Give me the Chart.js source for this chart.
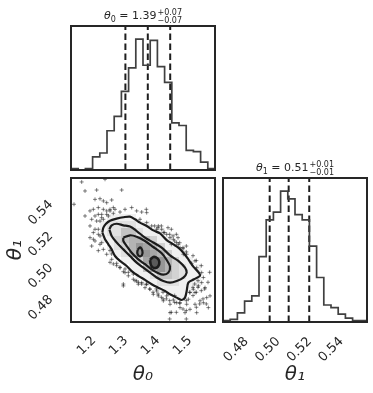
<!DOCTYPE html>
<html><head><meta charset="utf-8">
<script src="https://cdn.jsdelivr.net/npm/chart.js@4.4.1/dist/chart.umd.min.js"></script>
<style>
html,body{margin:0;padding:0;background:#fff;}
#wrap{position:relative;width:373px;height:393px;overflow:hidden;background:#fff;}
canvas{position:absolute;left:0;top:0;}
</style></head><body>
<div id="wrap">
<canvas id="c1" width="373" height="393"></canvas>
<canvas id="c2" width="373" height="393"></canvas>
<canvas id="c3" width="373" height="393"></canvas>
</div>
<script>
// ---- data ----
const axisLabels = ['θ₀', 'θ₁'];
const titleSymbols = ['θ', 'θ'];
const titleIndices = ['0', '1'];
const titleValues = ['1.39', '0.51'];
const titleUpper = ['+0.07', '+0.01'];
const titleLower = ['−0.07', '−0.01'];

const theta0Range = [1.15, 1.60];
const theta1Range = [0.4715, 0.5625];
const theta0Ticks = [1.2, 1.3, 1.4, 1.5];
const theta1Ticks = [0.48, 0.50, 0.52, 0.54];

const theta0BinEdges = [1.15,1.1725,1.195,1.2175,1.24,1.2625,1.285,1.3075,1.33,1.3525,1.375,1.3975,1.42,1.4425,1.465,1.4875,1.51,1.5325,1.555,1.5775,1.60];
const theta1BinEdges = [0.4715,0.47605,0.4806,0.48515,0.4897,0.49425,0.4988,0.50335,0.5079,0.51245,0.517,0.52155,0.5261,0.53065,0.5352,0.53975,0.5443,0.54885,0.5534,0.55795,0.5625];

const theta0Counts = [1,0,1,10,13,30,41,60,78,100,80,99,79,67,36,34,15,14,6,1];
const theta1Counts = [1,2,7,16,20,50,78,84,100,94,82,78,58,34,13,11,6,3,1,1];

const theta0Quantiles = [1.32, 1.39, 1.46];
const theta1Quantiles = [0.501, 0.513, 0.526];

// 2D histogram shading, rows from highest theta1 (top) to lowest, columns theta0 bins
const density2d = [
 [0,0,0,0,0,0,0,0,0,0,0,0,0,0,0,0,0,0,0,0],
 [0,0,0,0,0,0,0,0,0,0,0,0,0,0,0,0,0,0,0,0],
 [0,0,0,0,0,0,0,0,0,0,0,0,0,0,0,0,0,0,0,0],
 [0,0,0,0,0,0,0,0,0,0,0,0,0,0,0,0,0,0,0,0],
 [0,0,0,0,0,0,0,0,0,0,0,0,0,0,0,0,0,0,0,0],
 [0,0,0,0,0,1,1,1,1,0,0,0,0,0,0,0,0,0,0,0],
 [0,0,0,0,1,2,2,2,2,1,1,0,0,0,0,0,0,0,0,0],
 [0,0,0,0,1,2,2,4,4,2,1,1,1,0,0,0,0,0,0,0],
 [0,0,0,0,1,1,3,4,5,5,4,3,1,1,0,0,0,0,0,0],
 [0,0,0,0,0,1,2,3,5,7,6,5,3,1,1,0,0,0,0,0],
 [0,0,0,0,0,0,1,2,5,7,7,6,5,3,1,1,0,0,0,0],
 [0,0,0,0,0,0,0,1,1,3,6,8,7,5,3,1,1,0,0,0],
 [0,0,0,0,0,0,0,0,1,1,4,6,7,5,3,2,1,1,0,0],
 [0,0,0,0,0,0,0,0,0,1,1,2,4,4,3,2,1,1,0,0],
 [0,0,0,0,0,0,0,0,0,0,1,1,2,2,2,1,1,1,0,0],
 [0,0,0,0,0,0,0,0,0,0,0,0,1,1,1,1,1,0,0,0],
 [0,0,0,0,0,0,0,0,0,0,0,0,0,0,1,1,0,0,0,0],
 [0,0,0,0,0,0,0,0,0,0,0,0,0,0,0,0,0,0,0,0],
 [0,0,0,0,0,0,0,0,0,0,0,0,0,0,0,0,0,0,0,0],
 [0,0,0,0,0,0,0,0,0,0,0,0,0,0,0,0,0,0,0,0]
];

// contour levels (theta0, theta1) pairs, outer to inner
const contourOuter = [[1.2479,0.5280],[1.2511,0.5311],[1.2594,0.5336],[1.2719,0.5355],[1.2927,0.5368],[1.3136,0.5377],[1.3344,0.5381],[1.3500,0.5364],[1.3656,0.5343],[1.3865,0.5322],[1.4073,0.5294],[1.4282,0.5275],[1.4490,0.5233],[1.4698,0.5206],[1.4854,0.5185],[1.5011,0.5153],[1.5167,0.5111],[1.5323,0.5065],[1.5479,0.5031],[1.5532,0.5007],[1.5344,0.4985],[1.5167,0.4964],[1.5115,0.4911],[1.5063,0.4869],[1.4959,0.4854],[1.4802,0.4869],[1.4594,0.4890],[1.4438,0.4911],[1.4229,0.4932],[1.4021,0.4954],[1.3813,0.4981],[1.3604,0.5007],[1.3396,0.5037],[1.3240,0.5069],[1.3031,0.5101],[1.2875,0.5132],[1.2771,0.5174],[1.2667,0.5206],[1.2563,0.5238],[1.2479,0.5280]];
const contourSecond = [[1.2698,0.5301],[1.2771,0.5326],[1.2927,0.5336],[1.3136,0.5326],[1.3344,0.5318],[1.3552,0.5290],[1.3813,0.5248],[1.4073,0.5217],[1.4334,0.5185],[1.4594,0.5136],[1.4854,0.5101],[1.5063,0.5058],[1.5115,0.5027],[1.5011,0.4996],[1.4802,0.4974],[1.4594,0.4964],[1.4386,0.4974],[1.4177,0.4996],[1.3969,0.5027],[1.3761,0.5058],[1.3552,0.5090],[1.3344,0.5132],[1.3136,0.5174],[1.2927,0.5217],[1.2771,0.5259],[1.2698,0.5301]];
const contourThird = [[1.3136,0.5248],[1.3344,0.5263],[1.3552,0.5254],[1.3813,0.5227],[1.4073,0.5189],[1.4334,0.5149],[1.4490,0.5107],[1.4594,0.5065],[1.4542,0.5027],[1.4386,0.5014],[1.4198,0.5027],[1.4021,0.5048],[1.3813,0.5080],[1.3604,0.5111],[1.3396,0.5153],[1.3240,0.5195],[1.3136,0.5227],[1.3136,0.5248]];
const contourInnerA = [[1.3584,0.5170],[1.3656,0.5187],[1.3729,0.5166],[1.3719,0.5139],[1.3636,0.5130],[1.3573,0.5149],[1.3584,0.5170]];
const contourInnerB = [[1.3969,0.5107],[1.4073,0.5126],[1.4198,0.5118],[1.4261,0.5095],[1.4219,0.5065],[1.4094,0.5056],[1.4000,0.5073],[1.3969,0.5107]];

// samples visible outside the outer contour
const samples = [[1.1834,0.5600],[1.2563,0.5617],[1.1938,0.5543],[1.2302,0.5549],[1.3084,0.5549],[1.1594,0.5459],[1.2250,0.5490],[1.2406,0.5494],[1.2511,0.5480],[1.2615,0.5469],[1.2771,0.5486],[1.2198,0.5427],[1.2354,0.5438],[1.2511,0.5427],[1.2094,0.5417],[1.1938,0.5385],[1.2146,0.5364],[1.2354,0.5395],[1.2875,0.5427],[1.3031,0.5410],[1.3188,0.5427],[1.3396,0.5438],[1.3552,0.5417],[1.3709,0.5410],[1.3865,0.5406],[1.2094,0.5322],[1.2250,0.5301],[1.2354,0.5269],[1.2198,0.5238],[1.2406,0.5206],[1.2511,0.5174],[1.2615,0.5143],[1.2771,0.5111],[1.2927,0.5086],[1.3031,0.5058],[1.3188,0.5027],[1.3292,0.5007],[1.3448,0.4985],[1.3136,0.4943],[1.3604,0.4954],[1.3813,0.4932],[1.3969,0.4922],[1.4073,0.4890],[1.4229,0.4880],[1.4386,0.4849],[1.4594,0.4827],[1.4594,0.4774],[1.4907,0.4806],[1.5063,0.4774],[1.5219,0.4795],[1.5375,0.4827],[1.5532,0.4849],[1.5636,0.4837],[1.5740,0.4869],[1.5688,0.4932],[1.5584,0.4964],[1.5375,0.5101],[1.5115,0.5143],[1.4907,0.5185],[1.4802,0.5217],[1.4594,0.5248],[1.4386,0.5280],[1.4177,0.5301],[1.4021,0.5322],[1.3865,0.5343],[1.3656,0.5364],[1.5115,0.4827],[1.4802,0.4837],[1.5427,0.4774],[1.5792,0.4806],[1.5844,0.4880],[1.5219,0.4901],[1.5323,0.4922],[1.2406,0.5353],[1.2458,0.5374],[1.2615,0.5395],[1.2719,0.5417],[1.2823,0.5402],[1.3552,0.4974],[1.3709,0.4964],[1.3865,0.4954],[1.4177,0.4911],[1.4490,0.4880],[1.4698,0.4854],[1.4907,0.4837],[1.5167,0.4859],[1.5011,0.5143],[1.5271,0.5086],[1.5427,0.5058],[1.5584,0.5027],[1.5636,0.4996],[1.5479,0.4943],[1.5375,0.4901],[1.4229,0.5322],[1.4490,0.5269],[1.4698,0.5238],[1.4854,0.5206],[1.4334,0.5301],
 [1.2615,0.5417],[1.2719,0.5427],[1.2823,0.5438],[1.2250,0.5385],[1.2459,0.5395],[1.2667,0.5385],[1.2302,0.5353],[1.2511,0.5364],[1.2354,0.5301],[1.2198,0.5280],[1.2406,0.5259],[1.2094,0.5248],[1.2250,0.5227],[1.2459,0.5216],[1.2146,0.5195],
 [1.3854,0.5427],[1.4115,0.5322],[1.4219,0.5311],[1.4323,0.5322],[1.4531,0.5311],[1.4636,0.5301],[1.4427,0.5280],[1.4584,0.5269],[1.4688,0.5259],[1.4792,0.5269],[1.4740,0.5227],[1.4844,0.5248],[1.4636,0.5206],[1.4896,0.5216],[1.5000,0.5185],[1.5104,0.5195],
 [1.2719,0.5166],[1.2771,0.5145],[1.2719,0.5092],[1.2823,0.5082],[1.2927,0.5071],[1.3031,0.5061],[1.3136,0.5033],[1.3188,0.5050],[1.3292,0.5029],[1.3448,0.5018],[1.3500,0.4976],[1.3604,0.4966],[1.3709,0.4955],[1.3136,0.4955],[1.2354,0.5166],
 [1.3959,0.4924],[1.4063,0.4903],[1.4219,0.4892],[1.4323,0.4871],[1.4375,0.4861],[1.4479,0.4861],[1.4584,0.4850],[1.4740,0.4839],[1.4896,0.4833],[1.5104,0.4850],[1.5313,0.4882],[1.5417,0.4903],[1.5573,0.4913],[1.5677,0.4924],[1.5625,0.4861],[1.5521,0.4829],[1.5729,0.4829],[1.5417,0.4808],[1.5104,0.4787],[1.5000,0.4797],[1.4792,0.4776],[1.4636,0.4776],[1.4584,0.4734],[1.5104,0.4734],[1.5781,0.4966],[1.5833,0.5029],[1.5573,0.5071],[1.5417,0.5103],[1.5313,0.5134],[1.5104,0.5158],[1.5000,0.5178],[1.5469,0.4976],[1.5365,0.4955],[1.5313,0.4934],[1.5469,0.4934],[1.3854,0.4953],[1.4167,0.4924],[1.4375,0.4903],[1.4531,0.4892],[1.4740,0.4882],[1.5208,0.4903]];

// ---- drawing ----
const INK = '#262626';
const FONT = '"DejaVu Sans", sans-serif';
const pairs = a => a.map(p => ({x: p[0], y: p[1]}));
const stepPoints = (edges, counts) => edges.map((e, i) => ({x: e, y: counts[Math.min(i, counts.length - 1)]}));
const qLines = (qs, top) => qs.map(q => ({
  data: [{x: q, y: 0}, {x: q, y: top}], showLine: true, pointRadius: 0,
  borderColor: '#1e1e1e', borderWidth: 2, borderDash: [6.5, 3.5]
}));

const framePlugin = {id: 'frame', afterDraw(chart) {
  const {ctx, chartArea: a} = chart;
  ctx.save(); ctx.strokeStyle = INK; ctx.lineWidth = 2;
  ctx.strokeRect(a.left, a.top, a.right - a.left, a.bottom - a.top); ctx.restore();
}};

const titlePlugin = {id: 'cornerTitle', afterDraw(chart, args, o) {
  const i = o.index; if (i === undefined) return;
  const {ctx, chartArea: a} = chart;
  const fMain = '11px ' + FONT, fIt = 'italic 11px ' + FONT, fSm = '8px ' + FONT;
  ctx.save(); ctx.fillStyle = INK; ctx.textBaseline = 'alphabetic'; ctx.textAlign = 'left';
  ctx.font = fIt; const w1 = ctx.measureText(titleSymbols[i]).width;
  ctx.font = fSm; const w2 = ctx.measureText(titleIndices[i]).width;
  const w4 = Math.max(ctx.measureText(titleUpper[i]).width, ctx.measureText(titleLower[i]).width);
  ctx.font = fMain; const mid = ' = ' + titleValues[i]; const w3 = ctx.measureText(mid).width;
  const total = w1 + w2 + w3 + w4 + 1;
  let x = (a.left + a.right) / 2 - total / 2; const base = a.top - 7;
  ctx.font = fIt; ctx.fillText(titleSymbols[i], x, base); x += w1;
  ctx.font = fSm; ctx.fillText(titleIndices[i], x, base + 2.5); x += w2;
  ctx.font = fMain; ctx.fillText(mid, x, base); x += w3 + 1;
  ctx.font = fSm; ctx.fillText(titleUpper[i], x, base - 4); ctx.fillText(titleLower[i], x, base + 3.5);
  ctx.restore();
}};

const cellPlugin = {id: 'cells', beforeDatasetsDraw(chart) {
  const {ctx, chartArea: a, scales: {x: xs, y: ys}} = chart;
  ctx.save(); ctx.beginPath(); ctx.rect(a.left, a.top, a.right - a.left, a.bottom - a.top); ctx.clip();
  const n = density2d.length;
  density2d.forEach((row, r) => row.forEach((L, c) => {
    if (!L) return;
    const k = n - 1 - r;
    const x0 = Math.round(xs.getPixelForValue(theta0BinEdges[c])), x1 = Math.round(xs.getPixelForValue(theta0BinEdges[c + 1]));
    const y0 = Math.round(ys.getPixelForValue(theta1BinEdges[k + 1])), y1 = Math.round(ys.getPixelForValue(theta1BinEdges[k]));
    const g = 255 - 15 * L;
    ctx.fillStyle = `rgb(${g},${g},${g})`; ctx.fillRect(x0, y0, x1 - x0, y1 - y0);
  }));
  ctx.restore();
}};

const common = {responsive: false, animation: false, devicePixelRatio: 1,
  plugins: {legend: {display: false}, tooltip: {enabled: false}}};
const tickFont = {family: FONT, size: 13};
const titleFont = {family: FONT, size: 20, style: 'italic'};
const hist0Max = 1.1 * Math.max(...theta0Counts);
const hist1Max = 1.1 * Math.max(...theta1Counts);
const histLine = {showLine: true, stepped: 'before', borderColor: '#404040', borderWidth: 1.7, pointRadius: 0};

function bottomAxis(range, ticks, digits, label, pad, offs) {
  return {type: 'linear', min: range[0], max: range[1],
    afterBuildTicks: s => { s.ticks = ticks.map(v => ({value: v})); },
    afterFit: s => { s.height = 71; },
    grid: {display: false, drawTicks: false}, border: {display: false},
    ticks: {font: tickFont, color: INK, minRotation: 45, maxRotation: 45, padding: pad, labelOffset: offs, autoSkip: false,
      callback: v => Number(v).toFixed(digits)},
    title: {display: true, text: label, font: titleFont, color: INK, padding: {top: 0, bottom: 6}}};
}

// top: theta0 histogram
new Chart(document.getElementById('c1'), {
  type: 'scatter',
  data: {datasets: [Object.assign({data: stepPoints(theta0BinEdges, theta0Counts)}, histLine), ...qLines(theta0Quantiles, hist0Max)]},
  options: Object.assign({}, common, {
    layout: {padding: {left: 71, top: 26, right: 158, bottom: 223}},
    plugins: {legend: {display: false}, tooltip: {enabled: false}, cornerTitle: {index: 0}},
    scales: {x: {type: 'linear', display: false, min: theta0Range[0], max: theta0Range[1]},
             y: {display: false, min: 0, max: hist0Max}}}),
  plugins: [framePlugin, titlePlugin]
});

// bottom-left: 2D
new Chart(document.getElementById('c2'), {
  type: 'scatter',
  data: {datasets: [
    {data: pairs(samples), pointStyle: 'cross', pointRadius: 2, borderWidth: 1, borderColor: 'rgba(30,30,30,0.55)', backgroundColor: 'rgba(30,30,30,0.55)'},
    ...[contourOuter, contourSecond, contourThird, contourInnerA].map(c => ({data: pairs(c), showLine: true, pointRadius: 0, borderColor: '#1c1c1c', borderWidth: 2.2, tension: 0.3})),
    {data: pairs(contourInnerB), showLine: true, pointRadius: 0, borderColor: '#1c1c1c', borderWidth: 2.6, tension: 0.3, fill: 'shape', backgroundColor: '#5a5a5a'}
  ]},
  options: Object.assign({}, common, {
    layout: {padding: {left: 0, top: 178, right: 158, bottom: 0}},
    scales: {
      x: bottomAxis(theta0Range, theta0Ticks, 1, axisLabels[0], 11, 7),
      y: {type: 'linear', min: theta1Range[0], max: theta1Range[1],
        afterBuildTicks: s => { s.ticks = theta1Ticks.map(v => ({value: v})); },
        afterFit: s => { s.width = 71; },
        grid: {display: false, drawTicks: false}, border: {display: false},
        ticks: {font: tickFont, color: INK, minRotation: 45, maxRotation: 45, padding: 20, labelOffset: -11, autoSkip: false,
          callback: v => Number(v).toFixed(2)},
        title: {display: true, text: axisLabels[1], font: titleFont, color: INK, padding: {top: 4, bottom: 0}}}
    }}),
  plugins: [cellPlugin, framePlugin]
});

// bottom-right: theta1 histogram
new Chart(document.getElementById('c3'), {
  type: 'scatter',
  data: {datasets: [Object.assign({data: stepPoints(theta1BinEdges, theta1Counts)}, histLine), ...qLines(theta1Quantiles, hist1Max)]},
  options: Object.assign({}, common, {
    layout: {padding: {left: 223, top: 178, right: 6, bottom: 0}},
    plugins: {legend: {display: false}, tooltip: {enabled: false}, cornerTitle: {index: 1}},
    scales: {x: bottomAxis(theta1Range, theta1Ticks, 2, axisLabels[1], 12, 10),
             y: {display: false, min: 0, max: hist1Max}}}),
  plugins: [framePlugin, titlePlugin]
});
</script>
</body></html>
